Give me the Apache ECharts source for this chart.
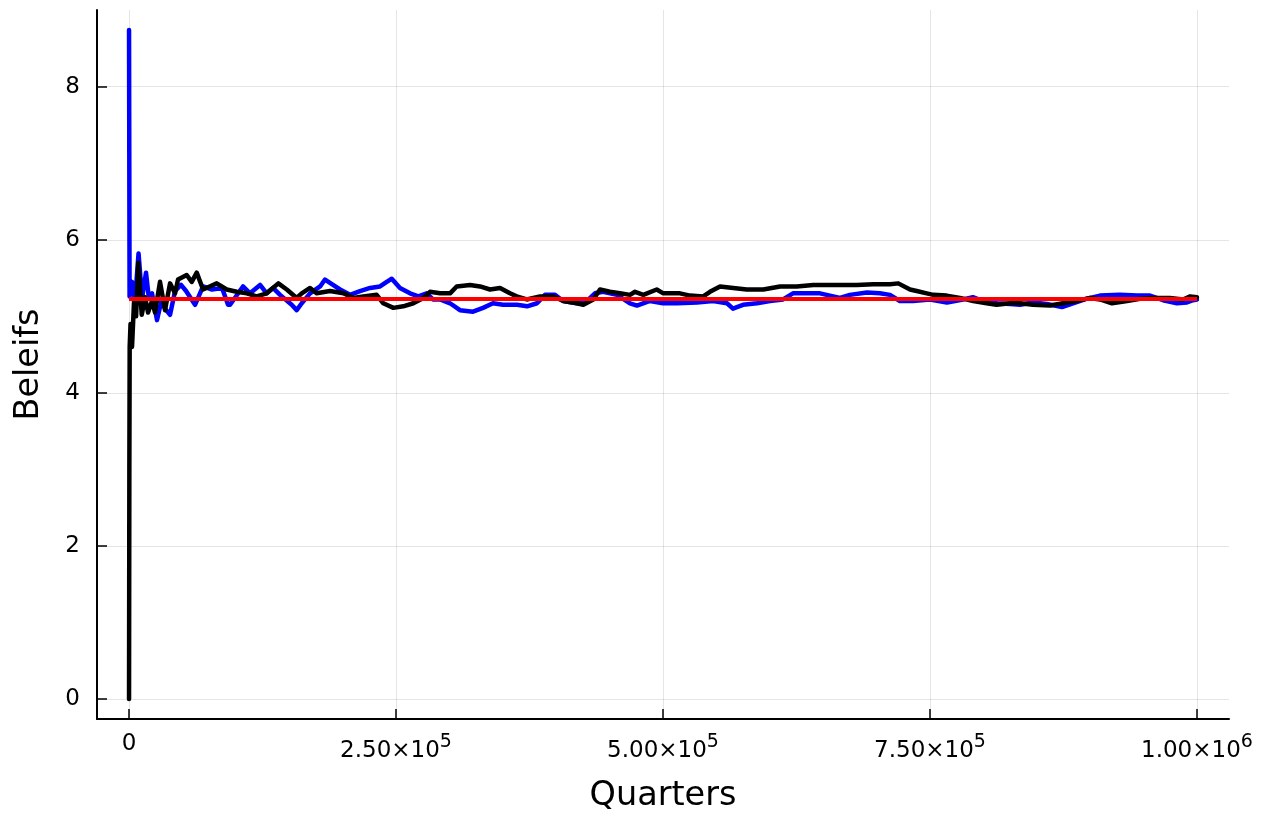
<!DOCTYPE html>
<html>
<head>
<meta charset="utf-8">
<script src="https://cdn.jsdelivr.net/npm/echarts@6/dist/echarts.min.js"></script>
<style>
html,body{margin:0;padding:0;background:#fff;}
#chart{width:1268px;height:815px;}
</style>
</head>
<body>
<div id="chart"></div>
<script>
// ---- data ----
const xTicks = [0, 250000, 500000, 750000, 1000000];
const xTickMantissa = ['0', '2.50×10', '5.00×10', '7.50×10', '1.00×10'];
const xTickExponent = ['', '5', '5', '5', '6'];
const yTicks = [0, 2, 4, 6, 8];

const blueSeries = [
[0,8.74],[500,5.26],[2800,5.45],[5600,5.2],[8900,5.82],[12200,5.24],[15900,5.57],[18400,5.26],
[21500,5.3],[26200,4.95],[30600,5.22],[33700,5.1],[38400,5.02],[43100,5.33],[48700,5.41],[53400,5.33],
[61800,5.15],[69300,5.39],[77700,5.35],[87100,5.37],[92700,5.15],[94600,5.15],[106700,5.39],[113300,5.30],
[122700,5.41],[128900,5.30],[134800,5.37],[141400,5.28],[152300,5.15],[157000,5.08],[161700,5.17],[169500,5.30],
[178900,5.39],[183500,5.48],[191000,5.41],[197600,5.35],[206900,5.28],[216300,5.33],[225700,5.37],[235000,5.39],
[241300,5.45],[246000,5.49],[253700,5.37],[263100,5.30],[270900,5.26],[278700,5.30],[284600,5.22],[291200,5.22],
[300600,5.17],[309900,5.08],[322100,5.06],[331500,5.11],[340800,5.17],[350200,5.15],[363300,5.15],[372700,5.13],
[382000,5.17],[389500,5.28],[398900,5.28],[406400,5.20],[419500,5.17],[428800,5.20],[436300,5.30],[443800,5.32],
[456900,5.28],[469100,5.17],[475600,5.14],[487800,5.20],[500000,5.17],[513100,5.17],[531800,5.18],[546800,5.20],
[559900,5.17],[565500,5.10],[574900,5.15],[588000,5.17],[600200,5.20],[612400,5.22],[621700,5.30],[634800,5.30],
[647000,5.30],[656300,5.27],[665700,5.24],[675000,5.28],[691000,5.31],[703100,5.30],[712500,5.28],[721800,5.20],
[734100,5.20],[750000,5.22],[765900,5.18],[780900,5.22],[790200,5.25],[799600,5.20],[812700,5.17],[824900,5.16],
[834300,5.15],[846400,5.18],[859600,5.16],[873600,5.12],[883900,5.17],[897000,5.23],[909200,5.27],[927900,5.28],
[943800,5.27],[956000,5.27],[968200,5.21],[981300,5.17],[990600,5.18],[996300,5.21],[1000000,5.22]
];

const blackSeries = [
[0,0],[300,3.0],[600,4.6],[1400,4.9],[2800,4.6],[4700,5.2],[6600,5.0],[8700,5.70],[11900,5.02],[15000,5.25],
[17800,5.05],[21500,5.2],[24300,5.05],[29000,5.45],[33700,5.08],[38400,5.43],[43100,5.30],[45900,5.48],[54000,5.54],
[58700,5.45],[63400,5.57],[69300,5.35],[82100,5.43],[91500,5.35],[100800,5.32],[110200,5.30],[119600,5.26],[128900,5.30],
[139800,5.43],[147700,5.35],[157000,5.24],[161700,5.30],[169500,5.37],[175700,5.30],[188200,5.33],[200700,5.30],
[210000,5.24],[219400,5.26],[231900,5.28],[238100,5.17],[247500,5.11],[256800,5.13],[266200,5.17],[275600,5.24],
[281800,5.32],[291200,5.30],[300600,5.30],[306800,5.39],[319300,5.41],[328700,5.39],[338000,5.35],[347400,5.37],
[356700,5.30],[363000,5.26],[372400,5.22],[384800,5.26],[397300,5.26],[406700,5.20],[419200,5.17],[425400,5.15],
[434700,5.22],[441000,5.35],[450300,5.32],[459700,5.30],[469100,5.28],[473800,5.32],[481600,5.28],[494100,5.35],
[500300,5.30],[515900,5.30],[525300,5.27],[537700,5.26],[544000,5.32],[553400,5.39],[565800,5.37],[578400,5.35],
[593900,5.35],[609600,5.39],[625200,5.39],[640700,5.41],[656400,5.41],[681400,5.41],[696900,5.42],[712500,5.42],
[720300,5.43],[731300,5.35],[737500,5.33],[746900,5.30],[753100,5.28],[765600,5.27],[778100,5.24],[790500,5.20],
[803100,5.17],[812400,5.15],[824900,5.17],[834300,5.17],[846400,5.15],[862400,5.14],[874500,5.17],[887600,5.20],
[899800,5.24],[909200,5.22],[920400,5.17],[934500,5.20],[946700,5.23],[958800,5.24],[974600,5.24],[987100,5.22],
[993600,5.26],[1000000,5.25]
];

const redSeries = [[0,5.227],[1000000,5.227]];

// ---- chart ----
const font = 'DejaVu Sans';
const gridColor = 'rgba(0,0,0,0.1)';
const chart = echarts.init(document.getElementById('chart'), null, {renderer:'canvas'});

const gridLines = xTicks.map(v => ({xAxis: v})).concat(yTicks.map(v => ({yAxis: v})));

const option = {
  animation: false,
  backgroundColor: '#ffffff',
  grid: {left: 97, right: 39, top: 10, bottom: 96, containLabel: false, outerBoundsMode: 'none'},
  xAxis: {
    type: 'value', min: -30000, max: 1030000,
    name: 'Quarters', nameLocation: 'middle', nameGap: 60,
    nameTextStyle: {fontFamily: font, fontSize: 33.5, color: '#000'},
    axisLine: {show: true, onZero: false, lineStyle: {color: '#000', width: 2}},
    axisTick: {show: true, inside: true, length: 10, customValues: xTicks, lineStyle: {color: '#000', width: 1.5}},
    axisLabel: {
      show: true, customValues: xTicks, margin: 14,
      formatter: function (v) {
        const i = xTicks.indexOf(v);
        if (i < 0) return '';
        if (!xTickExponent[i]) return '{m|' + xTickMantissa[i] + '}';
        return '{m|' + xTickMantissa[i] + '}{e|' + xTickExponent[i] + '}';
      },
      rich: {
        m: {fontFamily: font, fontSize: 23, color: '#000'},
        e: {fontFamily: font, fontSize: 19, color: '#000', padding: [0, 0, 17, 0]}
      }
    },
    splitLine: {show: false}
  },
  yAxis: {
    type: 'value', min: -0.262, max: 9.002,
    name: 'Beleifs', nameLocation: 'middle', nameGap: 51,
    nameTextStyle: {fontFamily: font, fontSize: 33.5, color: '#000'},
    axisLine: {show: true, onZero: false, lineStyle: {color: '#000', width: 2}},
    axisTick: {show: true, inside: true, length: 10, customValues: yTicks, lineStyle: {color: '#000', width: 1.5}},
    axisLabel: {show: true, customValues: yTicks, margin: 17, fontFamily: font, fontSize: 23, color: '#000',
      formatter: v => String(v)},
    splitLine: {show: false}
  },
  series: [
    {
      type: 'line', data: blueSeries, showSymbol: false, symbol: 'none',
      lineStyle: {color: '#0000ff', width: 4.5, cap: 'round', join: 'round'},
      z: 2,
      markLine: {
        silent: true, z: 1, symbol: ['none', 'none'], animation: false,
        label: {show: false},
        lineStyle: {color: gridColor, width: 1, type: 'solid'},
        emphasis: {disabled: true},
        data: gridLines
      }
    },
    {
      type: 'line', data: blackSeries, showSymbol: false, symbol: 'none',
      lineStyle: {color: '#000000', width: 4.5, cap: 'round', join: 'round'}, z: 2
    },
    {
      type: 'line', data: redSeries, showSymbol: false, symbol: 'none',
      lineStyle: {color: '#ff0000', width: 4}, z: 2
    }
  ]
};
chart.setOption(option);
</script>
</body>
</html>
